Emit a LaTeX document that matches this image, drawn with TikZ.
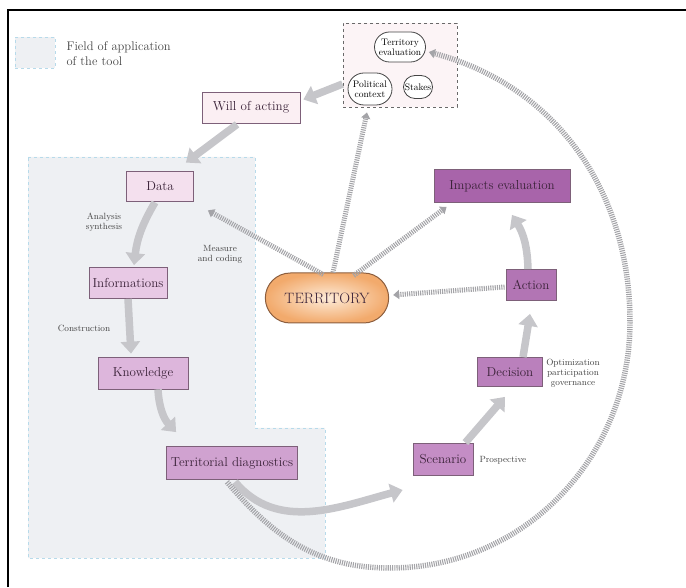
\documentclass[tikz,border=0pt]{standalone}
\usepackage{tikz}
\usetikzlibrary{shapes,arrows.meta,positioning,calc}

\definecolor{fieldgray}{HTML}{EEF0F3}
\definecolor{fieldline}{HTML}{B7DAEA}
\definecolor{toolsfill}{HTML}{FCF4F6}
\definecolor{boxline}{HTML}{7D6079}
\definecolor{boxtext}{HTML}{3A2238}
\definecolor{flowgray}{HTML}{C6C6CA}
\definecolor{hatchgray}{HTML}{A4A4A8}
\definecolor{notetext}{HTML}{444444}
\definecolor{terrin}{HTML}{FDEBD8}
\definecolor{terrout}{HTML}{F2AA6C}
\definecolor{terrline}{HTML}{8C5E3E}
\definecolor{willfill}{HTML}{FBEFF3}
\definecolor{datafill}{HTML}{F4E0EE}
\definecolor{infofill}{HTML}{E8C9E5}
\definecolor{knowfill}{HTML}{DDB6DC}
\definecolor{diagfill}{HTML}{D0A2D0}
\definecolor{scenfill}{HTML}{C48DC5}
\definecolor{decisfill}{HTML}{BA80BC}
\definecolor{actionfill}{HTML}{B275B4}
\definecolor{impactfill}{HTML}{A864AA}

\begin{document}
\begin{tikzpicture}[x=1pt,y=1pt,
  box/.style={draw=boxline, line width=0.8pt, minimum height=31pt, inner sep=0pt, text=boxtext, font=\fontsize{13}{14}\selectfont},
  pill/.style={draw=notetext, rounded rectangle, fill=white, line width=0.8pt, inner sep=2pt, align=center, font=\fontsize{9.5}{10}\selectfont},
  flow/.style={draw=flowgray, line width=7.5pt, -{Triangle[length=12pt,width=19pt]}},
  hatch/.style={draw=hatchgray, line width=5pt, dash pattern=on 1.1pt off 1.1pt, -{Triangle[length=6pt,width=9pt]}},
  note/.style={text=notetext, align=center, font=\fontsize{9}{10}\selectfont}
]
\useasboundingbox (0,0) rectangle (686,587);

% Frame
\draw[line width=1.6pt] (8,0) -- (8,577) -- (686,577);

% Field of application of the tool
\fill[fieldgray] (28,430) -- (255,430) -- (255,159) -- (325,159) -- (325,29) -- (28,29) -- cycle;
\draw[fieldline, dashed, line width=0.8pt] (28,430) -- (255,430) -- (255,159) -- (325,159) -- (325,29) -- (28,29) -- cycle;

% Legend
\node[fill=fieldgray, draw=fieldline, dashed, line width=0.8pt, minimum width=40pt, minimum height=31pt] (legbox) at (35,534.5) {};
\node[anchor=west, align=left, text=notetext, font=\fontsize{12.5}{15}\selectfont] (legtext) at (63,533.5) {Field of application\\of the tool};

% Context box
\node[fill=toolsfill, draw=notetext!80, dashed, line width=0.9pt, minimum width=114pt, minimum height=84pt] (tools) at (400,522) {};
\node[pill, minimum width=55pt, minimum height=30pt] (teval) at (400,540) {Territory\\evaluation};
\node[pill, minimum width=48pt, minimum height=32pt] (polit) at (370,498) {Political\\context};
\node[pill, minimum width=33pt, minimum height=23pt] (stakes) at (418,500) {Stakes};

% Boxes of the cycle
\node[box, fill=willfill, minimum width=98pt] (will) at (251,479.5) {Will of acting};
\node[box, fill=datafill, minimum width=67pt, minimum height=30pt] (data) at (160,401) {Data};
\node[box, fill=infofill, minimum width=78pt] (info) at (128,304) {Informations};
\node[box, fill=knowfill, minimum width=90pt, minimum height=32pt] (know) at (143,214) {Knowledge};
\node[box, fill=diagfill, minimum width=131pt, minimum height=33pt] (diag) at (232,124) {Territorial diagnostics};
\node[box, fill=scenfill, minimum width=60pt, minimum height=32pt] (scen) at (443,128) {Scenario};
\node[box, fill=decisfill, minimum width=65pt, minimum height=29pt] (decis) at (510,215) {Decision};
\node[box, fill=actionfill, minimum width=50pt] (action) at (531,302) {Action};
\node[box, fill=impactfill, minimum width=136pt, minimum height=33pt] (impact) at (502,401) {Impacts evaluation};

% Territory
\node[rounded rectangle, draw=terrline, line width=1pt, inner color=terrin, outer color=terrout,
      minimum width=130pt, minimum height=50pt, text=boxtext, font=\fontsize{15}{17}\selectfont] (territory) at (327,289) {TERRITORY};

% Notes
\node[note] (analysis) at (104,365) {Analysis\\synthesis};
\node[note] (measure) at (220,333) {Measure\\and coding};
\node[note] (constr) at (84,259) {Construction};
\node[note] (optim) at (573,214) {Optimization\\participation\\governance};
\node[note, anchor=west] (prosp) at (476,127) {Prospective};

% Main flow
\draw[flow] ($(tools.west)+(0,-19)$) -- ($(will.east)+(3,8)$);
\draw[flow] ($(will.south)+(-14,-1)$) -- ($(data.north east)+(-8,8)$);
\draw[flow] ($(data.south)+(-5,-1)$) to[bend right=12] ($(info.north)+(6,2)$);
\draw[flow] (info.south) -- ($(know.north)+(-12,3)$);
\draw[flow] ($(know.south)+(15,0)$) to[bend right=20] ($(diag.north west)+(10,14)$);
\draw[flow] ($(diag.south)+(3,-2)$) to[out=-50,in=195] ($(scen.west)+(-10,-31)$);
\draw[flow] ($(scen.north east)+(-8,0)$) -- ($(decis.south)+(-5,-10)$);
\draw[flow] ($(decis.north)+(13,0)$) -- ($(action.south)+(-1,-13)$);
\draw[flow] ($(action.north)+(-3,0)$) to[bend right=15] ($(impact.south)+(10,-12)$);

% Hatched links
\draw[hatch] ($(territory.north west)+(33,-2)$) -- ($(data.south east)+(14,-9)$);
\draw[hatch] ($(territory.north)+(6,0)$) -- ($(tools.south)+(-33,-5)$);
\draw[hatch] ($(territory.north east)+(-10,-3)$) -- ($(impact.south west)+(13,-4)$);
\draw[hatch] ($(action.west)+(-1,-2)$) -- ($(territory.east)+(4,3)$);

% Feedback loop
\coordinate (arcbot) at (390,19);
\coordinate (arcright) at (630,265);
\draw[hatch, line width=5.5pt] ($(diag.south)+(-5,-2)$) to[out=-50,in=180] (arcbot)
  to[out=0,in=-90] (arcright) to[out=90,in=-15] ($(teval.east)+(3,-5)$);

\end{tikzpicture}
\end{document}
